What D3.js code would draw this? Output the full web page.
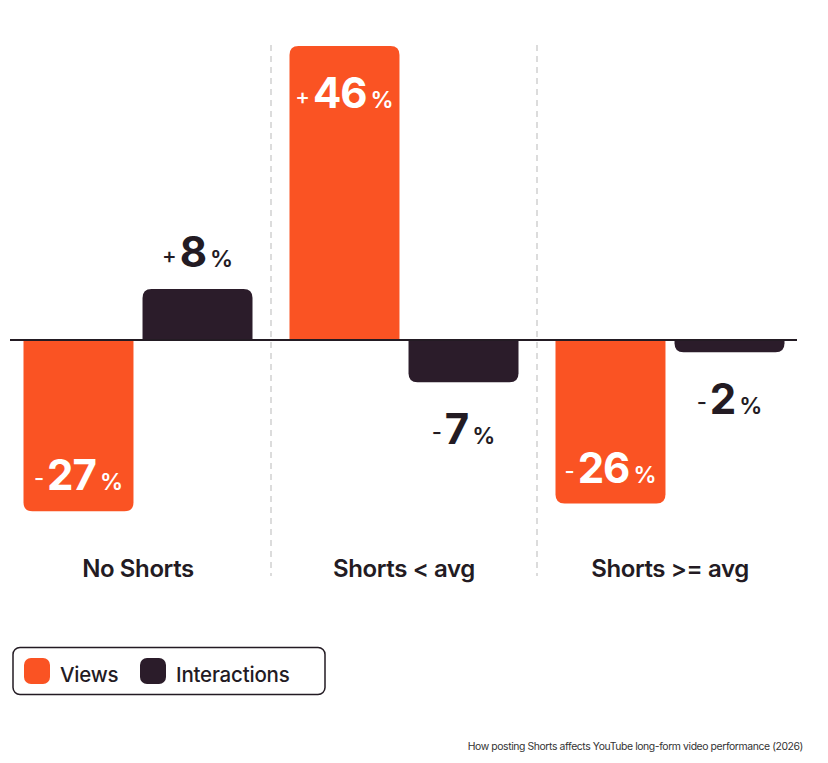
<!DOCTYPE html>
<html>
<head>
<meta charset="utf-8">
<script src="https://cdn.jsdelivr.net/npm/d3@7"></script>
<style>
  body { margin: 0; background: #fff; }
  svg { display: block; font-family: Inter, "Noto Sans", sans-serif; }
</style>
</head>
<body>
<svg id="chart" width="828" height="763"></svg>
<script>
// chart data
var categories = ["No Shorts", "Shorts < avg", "Shorts >= avg"];
var seriesNames = ["Views", "Interactions"];
var viewsValues = [-26.8, 46, -25.6];
var interactionValues = [8, -6.6, -1.9];
var caption = "How posting Shorts affects YouTube long-form video performance (2026)";

var colors = { "Views": "#FA5323", "Interactions": "#2B1C2A" };
var ink = "#231B23";

var svg = d3.select("#chart");

var x0 = d3.scaleBand().domain(categories).range([5, 803]);
var x1 = d3.scaleBand().domain(seriesNames)
  .range([18.5, x0.bandwidth() - 18.5]).paddingInner(0.076);
var y = d3.scaleLinear().domain([-30, 50]).range([531.7, 20.5]);

// dashed separators between groups
svg.selectAll("line.sep")
  .data(categories.slice(1))
  .enter().append("line")
  .attr("class", "sep")
  .attr("x1", function(d) { return x0(d); })
  .attr("x2", function(d) { return x0(d); })
  .attr("y1", 45).attr("y2", 576)
  .attr("stroke", "#b9b9b9")
  .attr("stroke-width", 1)
  .attr("stroke-dasharray", "6,5");

// build rows
var rows = [];
categories.forEach(function(c, i) {
  rows.push({ cat: c, series: "Views", value: viewsValues[i] });
  rows.push({ cat: c, series: "Interactions", value: interactionValues[i] });
});

// bar with rounded far end
function barPath(d) {
  var x = x0(d.cat) + x1(d.series), w = x1.bandwidth();
  var y0 = y(0), y1 = y(d.value);
  var r = Math.min(9, Math.abs(y1 - y0));
  var s = d.value >= 0 ? 1 : -1;
  return "M" + x + "," + y0 +
    "L" + x + "," + (y1 + s * r) +
    "Q" + x + "," + y1 + " " + (x + r) + "," + y1 +
    "L" + (x + w - r) + "," + y1 +
    "Q" + (x + w) + "," + y1 + " " + (x + w) + "," + (y1 + s * r) +
    "L" + (x + w) + "," + y0 + "Z";
}

svg.selectAll("path.bar")
  .data(rows)
  .enter().append("path")
  .attr("class", "bar")
  .attr("d", barPath)
  .attr("fill", function(d) { return colors[d.series]; });

// zero line
svg.append("line")
  .attr("x1", 10).attr("x2", 797)
  .attr("y1", y(0)).attr("y2", y(0))
  .attr("stroke", ink).attr("stroke-width", 2);

// value labels
var labels = svg.selectAll("text.val")
  .data(rows)
  .enter().append("text")
  .attr("class", "val")
  .attr("text-anchor", "middle")
  .attr("x", function(d) { return x0(d.cat) + x1(d.series) + x1.bandwidth() / 2; })
  .attr("y", function(d) {
    if (d.series === "Views") {
      // inside the bar, near its end
      return d.value >= 0 ? y(d.value) + 62 : y(d.value) - 21;
    }
    return d.value >= 0 ? y(d.value) - 22 : y(d.value) + 62;
  })
  .attr("fill", function(d) { return d.series === "Views" ? "#fff" : ink; })
  .attr("font-weight", 700);

labels.append("tspan")
  .attr("font-size", 22).attr("font-weight", 500)
  .attr("dy", -4)
  .text(function(d) { return d.value >= 0 ? "+" : "-"; });
labels.append("tspan")
  .attr("font-size", 42).attr("dx", 3).attr("dy", 4)
  .attr("letter-spacing", -1)
  .text(function(d) { return Math.round(Math.abs(d.value)); });
labels.append("tspan")
  .attr("font-size", 23).attr("font-weight", 600).attr("dx", 4)
  .text("%");

// category labels
svg.selectAll("text.cat")
  .data(categories)
  .enter().append("text")
  .attr("class", "cat")
  .attr("x", function(d) { return x0(d) + x0.bandwidth() / 2; })
  .attr("y", 577)
  .attr("text-anchor", "middle")
  .attr("font-size", 24)
  .attr("font-weight", 600)
  .attr("letter-spacing", -0.4)
  .attr("fill", ink)
  .text(function(d) { return d; });

// legend
var legend = svg.append("g");
legend.append("rect")
  .attr("x", 13).attr("y", 647.5).attr("width", 312).attr("height", 47)
  .attr("rx", 7)
  .attr("fill", "#fff").attr("stroke", ink).attr("stroke-width", 1.5);

var legendX = { "Views": 24, "Interactions": 140 };
var items = legend.selectAll("g.item")
  .data(seriesNames)
  .enter().append("g")
  .attr("transform", function(d) { return "translate(" + legendX[d] + ",0)"; });
items.append("rect")
  .attr("x", 0).attr("y", 658).attr("width", 26).attr("height", 26)
  .attr("rx", 7)
  .attr("fill", function(d) { return colors[d]; });
items.append("text")
  .attr("x", 36).attr("y", 682)
  .attr("font-size", 20.5).attr("font-weight", 500)
  .attr("letter-spacing", -0.2)
  .attr("fill", ink)
  .text(function(d) { return d; });

// caption
svg.append("text")
  .attr("x", 803).attr("y", 750)
  .attr("text-anchor", "end")
  .attr("font-size", 10.4)
  .attr("letter-spacing", -0.4)
  .attr("fill", "#333")
  .text(caption);
</script>
</body>
</html>
